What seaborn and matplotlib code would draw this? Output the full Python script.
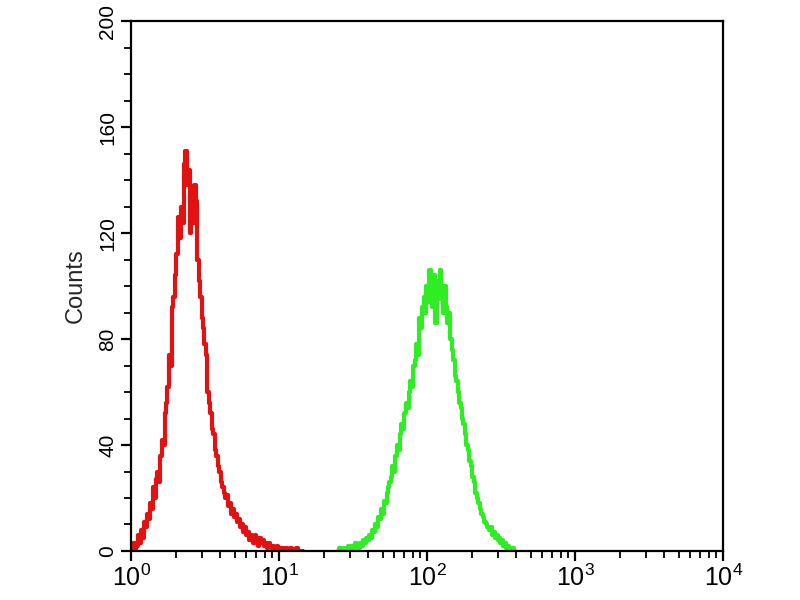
import numpy as np
import pandas as pd
import matplotlib
matplotlib.use("Agg")
import matplotlib.pyplot as plt
import matplotlib.ticker as mticker
import seaborn as sns

# Histogram counts per log-channel bin (bin width 0.01 decade)
red_start_decade = 0.00
red_counts = [0, 1, 3, 0, 2, 6, 3, 8, 5, 11, 9, 14, 12, 18, 16, 24, 20, 27, 30, 26,
              36, 42, 40, 52, 56, 62, 74, 70, 92, 96, 104, 112, 126, 118, 130, 124, 146, 151, 138, 144,
              120, 130, 124, 138, 132, 110, 102, 96, 88, 84, 78, 74, 60, 56, 52, 46, 44, 38, 36, 32,
              30, 26, 24, 22, 20, 21, 17, 18, 14, 16, 13, 14, 11, 12, 9, 10, 7, 9, 6, 7,
              4, 6, 5, 3, 6, 4, 2, 5, 3, 4, 2, 3, 1, 3, 2, 1, 2, 1, 0, 2,
              1, 0, 1, 1, 0, 1, 0, 0, 1, 0, 0, 0, 1, 0, 0, 0, 0]
green_start_decade = 1.40
green_counts = [0, 1, 0, 0, 1, 0, 1, 2, 1, 0, 2, 1, 3, 2, 1, 3, 2, 4, 3, 5,
                4, 6, 5, 8, 7, 10, 9, 13, 12, 16, 14, 19, 18, 22, 24, 26, 28, 32, 30, 36,
                40, 38, 44, 48, 46, 52, 56, 54, 60, 64, 62, 70, 72, 78, 74, 88, 84, 92, 96, 90,
                100, 94, 106, 98, 92, 104, 86, 102, 95, 106, 98, 90, 100, 92, 86, 90, 80, 76, 72, 66,
                64, 60, 56, 54, 50, 48, 44, 40, 38, 34, 32, 28, 26, 22, 20, 18, 16, 14, 13, 11,
                10, 9, 8, 9, 6, 7, 5, 6, 4, 5, 3, 4, 2, 3, 1, 2, 1, 0, 1, 0]
bin_width_decade = 0.01

y_ticks = [0, 40, 80, 120, 160, 200]
x_tick_exps = [0, 1, 2, 3, 4]

def to_frame(start, counts, name):
    dec = start + bin_width_decade * np.arange(len(counts))
    return pd.DataFrame({"fl": 10 ** dec, "count": counts, "sample": name})

df = pd.concat([to_frame(red_start_decade, red_counts, "red"),
                to_frame(green_start_decade, green_counts, "green")])

sns.set_theme(style="white")
plt.rcParams["font.family"] = ["Liberation Sans", "DejaVu Sans"]
plt.rcParams["mathtext.default"] = "regular"

fig = plt.figure(figsize=(8, 6), dpi=100)
ax = fig.add_axes([0.164, 0.0817, 0.740, 0.883])

palette = {"red": "#e01212", "green": "#30ec24"}
for name in ["red", "green"]:
    sub = df[df["sample"] == name]
    sns.lineplot(data=sub, x="fl", y="count", ax=ax, color=palette[name],
                 estimator=None, drawstyle="steps-mid", lw=3.0, legend=False)

ax.set_xscale("log")
ax.set_xlim(1, 1e4)
ax.set_ylim(0, 200)
ax.set_xticks([10 ** e for e in x_tick_exps])
ax.set_xticklabels([f"10$^{{{e}}}$" for e in x_tick_exps], fontsize=18)
ax.xaxis.set_minor_locator(mticker.LogLocator(base=10, subs=np.arange(2, 10), numticks=20))
ax.xaxis.set_minor_formatter(mticker.NullFormatter())
ax.set_yticks(y_ticks)
ax.set_yticklabels([str(v) for v in y_ticks], fontsize=15, rotation=90, va="center")
ax.yaxis.set_minor_locator(mticker.MultipleLocator(10))

ax.tick_params(axis="both", which="major", direction="out", length=7, width=1.6,
               colors="black", bottom=True, left=True, top=False, right=False, pad=3)
ax.tick_params(axis="both", which="minor", direction="out", length=5, width=1.3,
               colors="black", bottom=True, left=True, top=False, right=False)
for s in ax.spines.values():
    s.set_visible(True)
    s.set_color("black")
    s.set_linewidth(1.6)

ax.set_xlabel("")
ax.set_ylabel("Counts", fontsize=17, labelpad=8)

fig.savefig("out.png", dpi=100, facecolor="white")
